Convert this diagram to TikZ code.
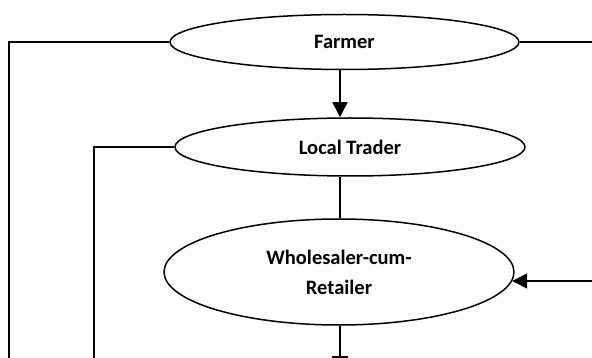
\documentclass[tikz,border=0pt]{standalone}
\usepackage{fontspec}
\setmainfont{Carlito}
\usetikzlibrary{shapes.geometric,arrows.meta}
\begin{document}
\begin{tikzpicture}[x=1pt,y=-1pt,
  flowline/.style={line width=1.5pt},
  arr/.style={flowline,-{Triangle[length=15pt,width=15pt]}},
  actor/.style={ellipse,draw,line width=1.5pt,inner sep=0pt,font=\fontsize{20.5}{30}\selectfont\bfseries,align=center}]
\useasboundingbox (0,0) rectangle (592,358);
\node[actor,minimum width=349,minimum height=55] (farmer) at (344.5,42) {Farmer};
\node[actor,minimum width=350,minimum height=58] (trader) at (350,147) {Local Trader};
\node[actor,minimum width=350,minimum height=106] (whole) at (339,272) {Wholesaler-cum-\\Retailer};
\coordinate (ax) at (340,0);
\coordinate (fl) at (9,358);
\coordinate (fr) at (592,42);
\coordinate (tl) at (94,358);
\coordinate (rr) at (592,281);
\coordinate (bot) at (340,357);
\coordinate (tickl) at (332,357);
\coordinate (tickr) at (348,357);
\draw[flowline] (farmer.west) -| (fl);
\draw[flowline] (farmer.east) -- (fr);
\draw[arr] (ax |- farmer.south) -- (ax |- trader.north);
\draw[flowline] (trader.west) -| (tl);
\draw[flowline] (ax |- trader.south) -- (ax |- whole.north);
\draw[arr] (rr) -- (rr -| whole.-3);
\draw[flowline] (ax |- whole.south) -- (bot);
\draw[flowline] (tickl) -- (tickr);
\end{tikzpicture}
\end{document}
